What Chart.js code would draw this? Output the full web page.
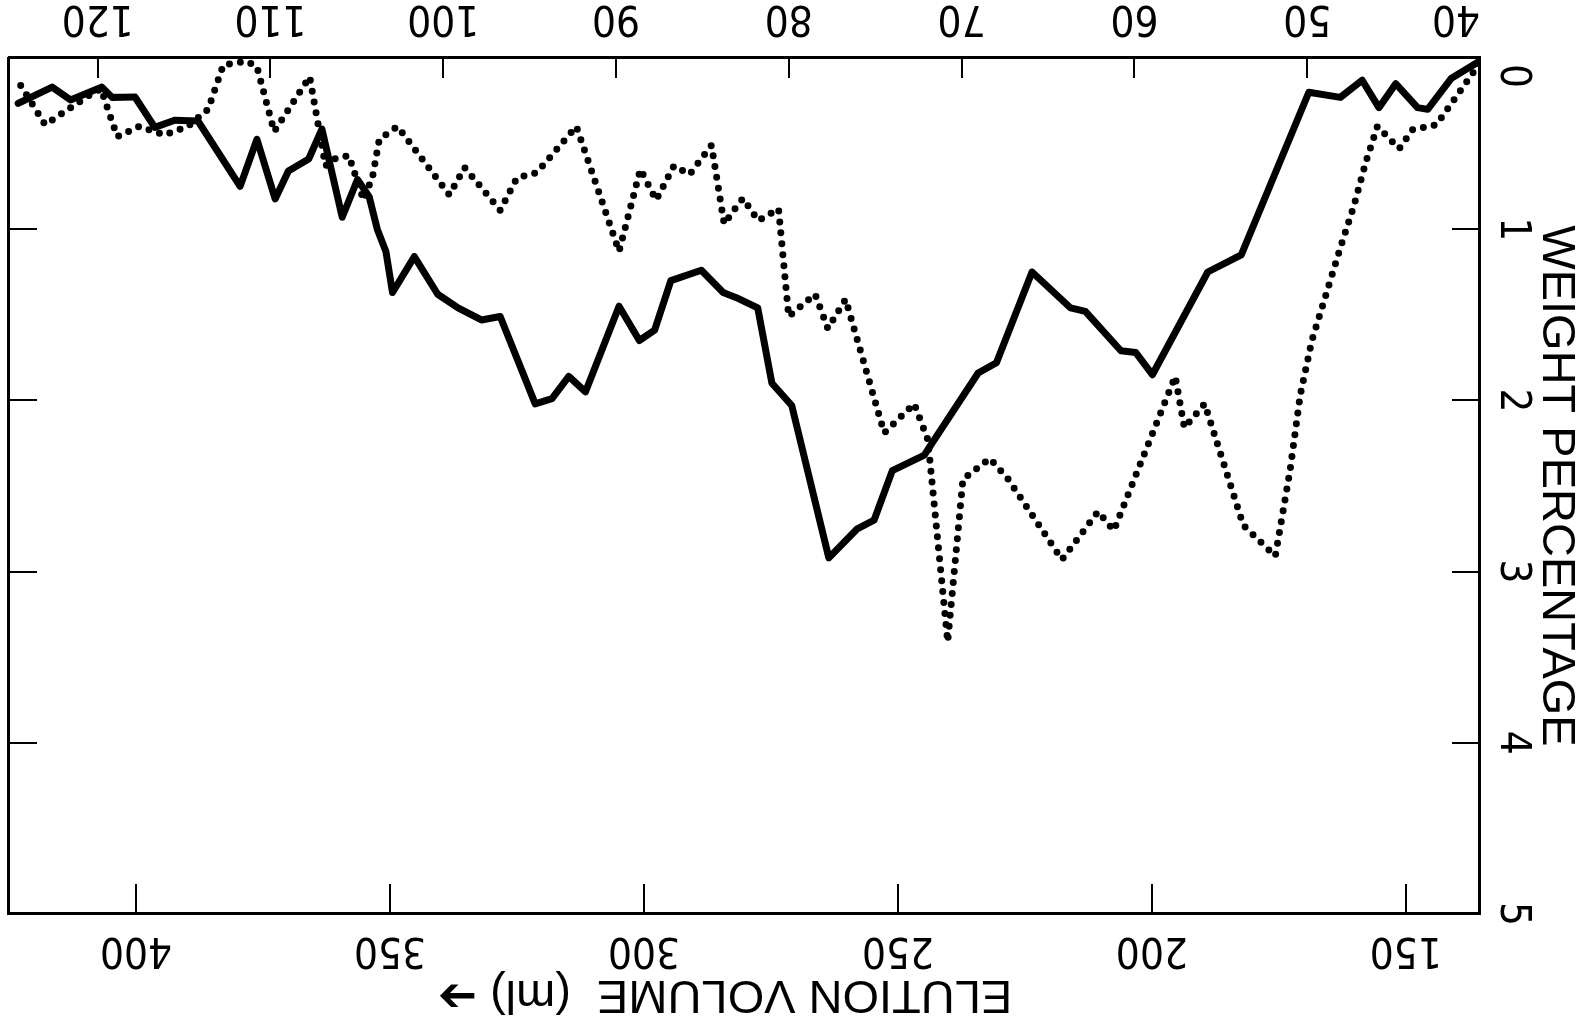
<!DOCTYPE html>
<html>
<head>
<meta charset="utf-8">
<script src="https://cdn.jsdelivr.net/npm/chart.js@4.4.1/dist/chart.umd.min.js"></script>
<style>
html,body{margin:0;padding:0;background:#fff;overflow:hidden;}
#wrap{width:1584px;height:1028px;transform:rotate(180deg);transform-origin:50% 50%;}
canvas{display:block;}
</style>
</head>
<body>
<div id="wrap"><canvas id="c" width="1584" height="1028"></canvas></div>
<script>
// ---- data (elution volume in ml, weight percentage) ----
const fractionTicks = [40, 50, 60, 70, 80, 90, 100, 110, 120];
const volumeTicks = [150, 200, 250, 300, 350, 400];
const weightTicks = [0, 1, 2, 3, 4, 5];
const fractionRange = [40, 125.13];
const volumeRange = [135.4, 425.0];
const weightRange = [0, 5];

const solidVolume = [423.2, 416.5, 412.9, 406.7, 404.7, 400.2, 396.3, 392.4, 387.8, 379.5, 376.2, 372.6, 370.0, 366.0, 363.4, 359.4, 356.4, 354.1, 352.5, 350.8, 349.5, 345.2, 340.6, 336.6, 332.0, 328.3, 321.4, 318.1, 314.8, 311.5, 304.9, 300.9, 297.9, 294.7, 288.7, 284.4, 281.8, 277.6, 274.8, 270.9, 263.6, 258.0, 254.7, 251.1, 244.8, 243.5, 234.2, 230.6, 223.6, 216.0, 213.1, 206.1, 203.2, 199.9, 189.0, 182.4, 169.1, 162.9, 158.6, 155.3, 152.0, 147.7, 145.7, 141.1, 135.6];
const solidWeight = [0.265, 0.17, 0.245, 0.17, 0.23, 0.228, 0.405, 0.364, 0.368, 0.75, 0.475, 0.823, 0.66, 0.59, 0.415, 0.93, 0.71, 0.81, 1.0, 1.13, 1.37, 1.16, 1.38, 1.46, 1.53, 1.51, 2.02, 1.99, 1.86, 1.95, 1.45, 1.65, 1.59, 1.30, 1.24, 1.37, 1.40, 1.46, 1.90, 2.03, 2.92, 2.75, 2.70, 2.41, 2.32, 2.26, 1.84, 1.78, 1.25, 1.46, 1.48, 1.71, 1.72, 1.85, 1.25, 1.15, 0.20, 0.23, 0.13, 0.29, 0.15, 0.29, 0.30, 0.12, 0.02];

const dottedVolume = [422.7, 417.9, 409.3, 406.9, 403.7, 399.4, 394.4, 389.8, 385.8, 382.8, 378.2, 376.2, 372.8, 365.8, 362.7, 361.0, 358.1, 355.2, 353.4, 352.1, 348.5, 338.3, 335.3, 328.3, 325.0, 321.1, 313.3, 304.9, 300.7, 297.6, 294.1, 291.0, 286.7, 284.2, 281.8, 280.5, 277.5, 275.5, 273.5, 271.5, 266.3, 263.8, 260.3, 252.7, 246.8, 244.1, 240.2, 237.2, 231.9, 228.3, 217.7, 210.6, 207.5, 195.4, 193.6, 189.6, 182.0, 175.7, 172.8, 170.8, 168.5, 165.6, 162.9, 160.2, 157.9, 155.6, 151.3, 148.7, 144.0, 135.2];
const dottedWeight = [0.16, 0.39, 0.22, 0.18, 0.46, 0.40, 0.45, 0.40, 0.30, 0.04, 0.02, 0.05, 0.43, 0.11, 0.63, 0.59, 0.57, 0.83, 0.69, 0.475, 0.40, 0.80, 0.64, 0.89, 0.70, 0.67, 0.40, 1.13, 0.65, 0.83, 0.63, 0.68, 0.51, 0.97, 0.87, 0.82, 0.95, 0.916, 0.88, 1.51, 1.38, 1.58, 1.41, 2.19, 2.02, 2.23, 3.41, 2.46, 2.34, 2.46, 2.93, 2.65, 2.76, 1.86, 2.16, 2.02, 2.73, 2.91, 2.41, 1.97, 1.65, 1.37, 1.11, 0.86, 0.61, 0.40, 0.53, 0.42, 0.39, 0.02];

const volumeTitle = '   ELUTION VOLUME  (ml) \u2794';
const weightTitle = 'WEIGHT PERCENTAGE';

// ---- chart ----
const tickFamily = "'Liberation Sans Narrow', 'DejaVu Sans Condensed', 'Liberation Sans', sans-serif";
const titleFamily = "'Liberation Sans', 'DejaVu Sans', sans-serif";
const INK = '#000';
const tickFont = {family: tickFamily, size: 42};

const pairs = (xs, ys) => xs.map((x, i) => ({x: x, y: ys[i]}));
const noPad = s => { s.paddingLeft = 0; s.paddingRight = 0; s.paddingTop = 0; s.paddingBottom = 0; };

// measure the widest weight label so the separately-placed "0" lines up with the others
const mctx = document.createElement('canvas').getContext('2d');
mctx.font = tickFont.size + 'px ' + tickFamily;
const digitW = Math.max(...weightTicks.map(v => mctx.measureText(String(v)).width));

new Chart(document.getElementById('c'), {
  type: 'line',
  data: {
    datasets: [
      {
        label: 'solid',
        data: pairs(solidVolume, solidWeight),
        xAxisID: 'vol', yAxisID: 'y',
        borderColor: INK, borderWidth: 7, pointRadius: 0, tension: 0, fill: false,
        borderJoinStyle: 'round', borderCapStyle: 'round'
      },
      {
        label: 'dotted',
        data: pairs(dottedVolume, dottedWeight),
        xAxisID: 'vol', yAxisID: 'y',
        borderColor: INK, borderWidth: 7, pointRadius: 0, tension: 0, fill: false,
        borderDash: [0, 11], borderCapStyle: 'round', borderJoinStyle: 'round'
      }
    ]
  },
  options: {
    responsive: false,
    animation: false,
    devicePixelRatio: 1,
    layout: {padding: {left: 0, right: 9, top: 0, bottom: 0}},
    plugins: {legend: {display: false}, tooltip: {enabled: false}, title: {display: false}},
    scales: {
      vol: {
        type: 'linear', position: 'top',
        min: volumeRange[0], max: volumeRange[1],
        afterBuildTicks: s => { s.ticks = volumeTicks.map(v => ({value: v})); },
        afterFit: s => { s.height = 114; noPad(s); },
        grid: {drawOnChartArea: false, drawTicks: true, tickLength: -30, color: INK, lineWidth: 2},
        border: {display: true, color: INK, width: 3},
        ticks: {padding: 40, color: INK, font: tickFont, maxRotation: 0, autoSkip: false},
        title: {display: true, text: volumeTitle, color: INK, font: {family: titleFamily, size: 47}, padding: {top: 6, bottom: 0}}
      },
      frac: {
        type: 'linear', position: 'bottom',
        min: fractionRange[0], max: fractionRange[1],
        afterBuildTicks: s => { s.ticks = fractionTicks.map(v => ({value: v})).concat([{value: fractionRange[1]}]); },
        afterFit: s => { s.height = 58; noPad(s); },
        grid: {drawOnChartArea: false, drawTicks: true, tickLength: -20, color: INK, lineWidth: 2},
        border: {display: true, color: INK, width: 3},
        ticks: {padding: 36, color: INK, font: tickFont, maxRotation: 0, autoSkip: false, align: 'inner',
          callback: v => fractionTicks.includes(v) ? String(v) : ''}
      },
      y: {
        type: 'linear', position: 'left', weight: 1,
        min: weightRange[0], max: weightRange[1],
        afterBuildTicks: s => { s.ticks = weightTicks.map(v => ({value: v})); },
        afterFit: s => { s.width = 104; noPad(s); },
        grid: {drawOnChartArea: false, drawTicks: true, tickLength: -28, color: INK, lineWidth: 2},
        border: {display: true, color: INK, width: 3},
        ticks: {padding: 48, color: INK, font: tickFont, minRotation: 90, maxRotation: 90, crossAlign: 'center', autoSkip: false,
          callback: v => v === weightTicks[0] ? '' : String(v)},
        title: {display: true, text: weightTitle, color: INK, font: {family: titleFamily, size: 47}, padding: {top: 0, bottom: 0}}
      },
      // zero-width axis carrying only the "0" label, set slightly off the corner as in the original
      yZero: {
        type: 'linear', position: 'left', weight: 0,
        min: weightRange[0] - 0.105, max: weightRange[1] - 0.105,
        afterBuildTicks: s => { s.ticks = [{value: weightTicks[0]}]; },
        afterFit: s => { s.width = 0; noPad(s); },
        grid: {display: false},
        border: {display: false},
        ticks: {mirror: true, padding: -20 - digitW, color: INK, font: tickFont, minRotation: 90, maxRotation: 90, crossAlign: 'center', autoSkip: false}
      },
      y2: {
        type: 'linear', position: 'right',
        min: weightRange[0], max: weightRange[1],
        afterBuildTicks: s => { s.ticks = weightTicks.map(v => ({value: v})); },
        afterFit: s => { s.width = 0; noPad(s); },
        grid: {drawOnChartArea: false, drawTicks: true, tickLength: -28, color: INK, lineWidth: 2},
        border: {display: true, color: INK, width: 3},
        ticks: {display: false}
      }
    }
  }
});
</script>
</body>
</html>
